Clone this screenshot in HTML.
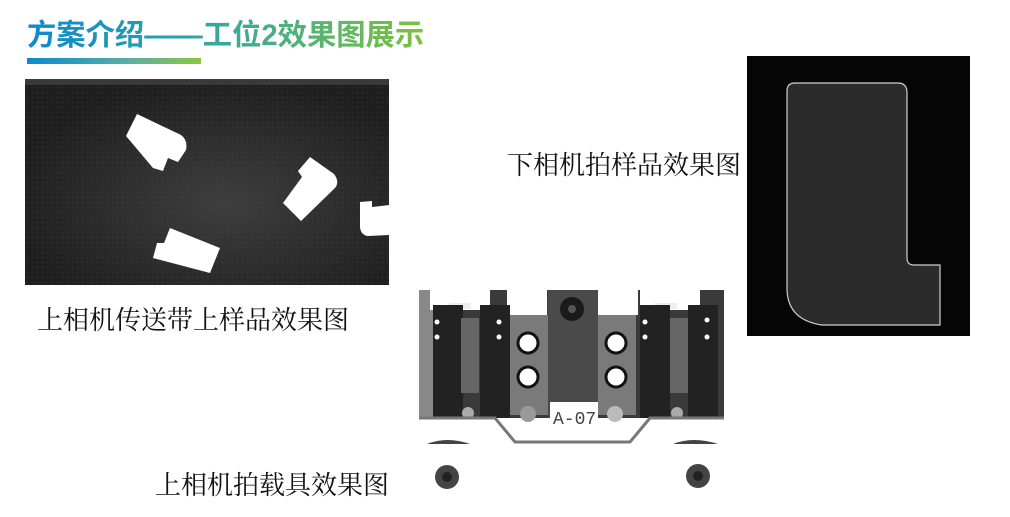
<!DOCTYPE html>
<html><head><meta charset="utf-8"><style>
body{margin:0;width:1010px;height:517px;background:#fff;position:relative;overflow:hidden;font-family:"Liberation Serif","Noto Serif CJK SC",serif}
.t{position:absolute;white-space:nowrap}
.title{left:27px;top:12px;font:bold 29.3px "Liberation Sans","Noto Sans CJK SC",sans-serif;background:linear-gradient(90deg,#0a8ad0,#3aa89a 50%,#7cc23c);-webkit-background-clip:text;background-clip:text;color:transparent;letter-spacing:0px}
.bar{position:absolute;left:27px;top:58px;width:174px;height:6px;background:linear-gradient(90deg,#0a8ad0,#5ab0a0 60%,#8cc63f)}
.lab{font-size:26px;color:#111}
</style></head><body>
<div class="t title">方案介绍——工位2效果图展示</div>
<div class="bar"></div>

<svg style="position:absolute;left:0;top:0" width="1010" height="517">
<defs>
<radialGradient id="belt" cx="0.55" cy="0.6" r="0.6"><stop offset="0" stop-color="#3e3e3e"/><stop offset="1" stop-color="#1e1e1e"/></radialGradient>
<pattern id="dots" width="5" height="5" patternUnits="userSpaceOnUse"><circle cx="2.5" cy="2.5" r="1" fill="#4a4a4a" opacity="0.5"/></pattern>
</defs>
<rect x="25" y="79" width="364" height="206" fill="url(#belt)"/>
<rect x="25" y="79" width="364" height="206" fill="url(#dots)" opacity="0.6"/>
<rect x="25" y="79" width="364" height="6" fill="#3a3a3a"/>
<g fill="#fff">
<path d="M137 114 L181 135 Q188 140 186 150 L178 162 L168 158 L163 171 L153 168 L126 136 Z"/>
<path d="M310 157 L334 174 Q340 182 335 188 L301 221 L283 203 L302 177 L298 171 Z"/>
<path d="M170 228 L220 248 L210 273 L153 258 L157 243 L164 243 Z"/>
<path d="M360 202 L372 201 L372 207 L389 205 L389 235 L367 236 Q360 234 360 226 Z"/>
</g>

<rect x="747" y="56" width="223" height="280" fill="#050505"/>
<path d="M795 83 L898 83 Q907 83 907 93 L907 258 Q907 265 914 265 L940 265 L940 325 L822 325 Q788 320 787 290 L787 91 Q787 83 795 83 Z" fill="#2b2b2b" stroke="#cfcfcf" stroke-width="1.2"/>

<rect x="419" y="290" width="305" height="128" fill="#3a3a3a"/>
<rect x="419" y="290" width="20" height="128" fill="#888"/>
<rect x="430" y="290" width="60" height="20" fill="#fff"/>
<rect x="507" y="290" width="40" height="25" fill="#fff"/>
<rect x="598" y="290" width="40" height="25" fill="#fff"/>
<rect x="640" y="290" width="60" height="20" fill="#fff"/>
<rect x="449" y="303" width="22" height="6" fill="#eee"/>
<rect x="655" y="303" width="22" height="6" fill="#eee"/>
<rect x="433" y="305" width="30" height="113" fill="#222"/>
<rect x="461" y="318" width="18" height="75" fill="#666"/>
<rect x="480" y="305" width="30" height="113" fill="#222"/>
<rect x="510" y="315" width="38" height="100" fill="#7a7a7a"/>
<rect x="548" y="290" width="50" height="128" fill="#4a4a4a"/>
<rect x="598" y="315" width="38" height="100" fill="#7a7a7a"/>
<rect x="640" y="305" width="30" height="113" fill="#222"/>
<rect x="670" y="318" width="18" height="75" fill="#666"/>
<rect x="688" y="305" width="30" height="113" fill="#222"/>
<circle cx="572" cy="309" r="12" fill="#1a1a1a"/><circle cx="572" cy="309" r="4" fill="#555"/>
<g fill="#fff" stroke="#111" stroke-width="3">
<circle cx="528" cy="343" r="10"/><circle cx="528" cy="377" r="10"/>
<circle cx="616" cy="343" r="10"/><circle cx="616" cy="377" r="10"/>
</g>
<g fill="#fff"><circle cx="437" cy="322" r="2.5"/><circle cx="437" cy="337" r="2.5"/><circle cx="499" cy="322" r="2.5"/><circle cx="499" cy="337" r="2.5"/><circle cx="645" cy="322" r="2.5"/><circle cx="645" cy="337" r="2.5"/><circle cx="707" cy="320" r="2.5"/><circle cx="707" cy="337" r="2.5"/></g>
<circle cx="528" cy="414" r="8" fill="#999"/><circle cx="615" cy="414" r="8" fill="#bbb"/>
<circle cx="468" cy="413" r="6" fill="#aaa"/><circle cx="677" cy="413" r="6" fill="#aaa"/>
<rect x="550" y="402" width="48" height="30" fill="#fff"/>
<text x="553" y="424" font-family="Liberation Mono,monospace" font-size="18" fill="#444">A-07</text>
<path d="M419 418 L495 418 L515 442 L630 442 L650 418 L724 418" fill="none" stroke="#777" stroke-width="3"/>
<path d="M427 444 Q447 436 470 444 Z" fill="#444"/>
<path d="M673 444 Q693 436 718 444 Z" fill="#444"/>
<circle cx="447" cy="477" r="12" fill="#444"/><circle cx="447" cy="477" r="5" fill="#222"/>
<circle cx="698" cy="476" r="12" fill="#444"/><circle cx="698" cy="476" r="5" fill="#222"/>
</svg>

<div class="t lab" style="left:507px;top:145px">下相机拍样品效果图</div>
<div class="t lab" style="left:37px;top:300px">上相机传送带上样品效果图</div>
<div class="t lab" style="left:155px;top:465px">上相机拍载具效果图</div>
</body></html>
